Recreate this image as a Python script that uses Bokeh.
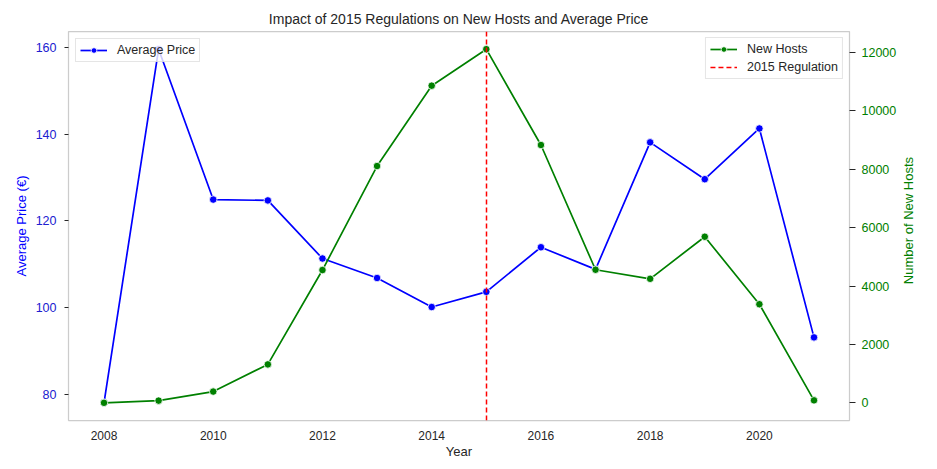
import math
from bokeh.plotting import figure
from bokeh.layouts import row
from bokeh.models import Range1d, LinearAxis, Legend, LegendItem, FixedTicker
from bokeh.core.properties import value
from bokeh.embed import file_html
from bokeh.resources import INLINE

years = [2008, 2009, 2010, 2011, 2012, 2013, 2014, 2015, 2016, 2017, 2018, 2019, 2020, 2021]
avg_price = [78.0, 159.6, 124.9, 124.7, 111.3, 106.8, 100.1, 103.6, 113.9, 108.8, 138.1, 129.6, 141.3, 93.1]
new_hosts = [5, 80, 390, 1320, 4550, 8110, 10860, 12110, 8830, 4560, 4250, 5690, 3380, 90]
regulation_year = [2015]
x_ticks = [2008, 2010, 2012, 2014, 2016, 2018, 2020]
price_ticks = [80, 100, 120, 140, 160]
host_ticks = [0, 2000, 4000, 6000, 8000, 10000, 12000]
right_axis_title = ["Number of New Hosts"]

FONT = "Liberation Sans"
DARK = "#262626"

HEIGHT = 464
TOP = 31
BOTTOM = 44
FRAME_H = HEIGHT - TOP - BOTTOM


def padded(vals, frac=0.05):
    lo, hi = min(vals), max(vals)
    pad = (hi - lo) * frac
    return lo - pad, hi + pad


x0, x1 = padded(years)
y0, y1 = padded(avg_price)
h0, h1 = padded(new_hosts)

p = figure(
    width=900, height=HEIGHT,
    output_backend="svg", toolbar_location=None,
    x_range=Range1d(x0, x1), y_range=Range1d(y0, y1),
    min_border_left=68, min_border_right=51, min_border_top=TOP, min_border_bottom=BOTTOM,
    title="Impact of 2015 Regulations on New Hosts and Average Price",
)
p.extra_y_ranges = {"hosts": Range1d(h0, h1)}

p.background_fill_color = "white"
p.border_fill_color = "white"
p.outline_line_color = "#cccccc"
p.outline_line_width = 1.25
p.xgrid.visible = False
p.ygrid.visible = False

p.title.text_font = FONT
p.title.text_font_size = "14px"
p.title.text_font_style = "normal"
p.title.text_color = DARK
p.title.align = "center"

# x axis
xa = p.xaxis[0]
xa.ticker = FixedTicker(ticks=x_ticks)
xa.axis_label = "Year"
xa.axis_line_color = None
xa.major_tick_out = 0
xa.major_tick_in = 0
xa.minor_tick_line_color = None
xa.major_label_standoff = 10
xa.axis_label_standoff = 1
xa.major_label_text_font = FONT
xa.major_label_text_font_size = "12px"
xa.major_label_text_color = DARK
xa.axis_label_text_font = FONT
xa.axis_label_text_font_size = "13px"
xa.axis_label_text_font_style = "normal"
xa.axis_label_text_color = DARK

# left axis
ya = p.yaxis[0]
ya.ticker = FixedTicker(ticks=price_ticks)
ya.axis_label = "Average Price (€)"
ya.axis_line_color = None
ya.major_tick_out = 4
ya.major_tick_in = 0
ya.major_tick_line_color = DARK
ya.minor_tick_line_color = None
ya.major_label_standoff = 8
ya.axis_label_standoff = 4
ya.major_label_text_font = FONT
ya.major_label_text_font_size = "12.5px"
ya.major_label_text_color = "#2020d0"
ya.axis_label_text_font = FONT
ya.axis_label_text_font_size = "13px"
ya.axis_label_text_font_style = "normal"
ya.axis_label_text_color = "blue"

# right axis (its title is drawn in a slim strip so it reads bottom-to-top)
ra = LinearAxis(y_range_name="hosts")
ra.ticker = FixedTicker(ticks=host_ticks)
ra.axis_line_color = None
ra.major_tick_out = 6
ra.major_tick_in = 0
ra.major_tick_line_color = DARK
ra.minor_tick_line_color = None
ra.major_label_standoff = 6
ra.major_label_text_font = FONT
ra.major_label_text_font_size = "12.5px"
ra.major_label_text_color = "green"
p.add_layout(ra, "right")

# series
price_line = p.line(years, avg_price, line_color="blue", line_width=1.7)
price_pts = p.scatter(years, avg_price, size=7.5, fill_color="blue", line_color="white", line_width=0.8)

host_line = p.line(years, new_hosts, line_color="green", line_width=1.7, y_range_name="hosts")
host_pts = p.scatter(years, new_hosts, size=7.5, fill_color="green", line_color="white", line_width=0.8,
                     y_range_name="hosts")

reg = p.vspan(x=regulation_year, line_color="red", line_dash="5 3", line_width=1.5)


def style_legend(lg, margin):
    lg.border_line_color = "#cccccc"
    lg.border_line_width = 1
    lg.background_fill_color = "white"
    lg.background_fill_alpha = 0.8
    lg.label_text_font = FONT
    lg.label_text_font_size = "12.5px"
    lg.label_text_color = DARK
    lg.glyph_width = 27
    lg.glyph_height = 14
    lg.label_height = 14
    lg.label_standoff = 10
    lg.padding = 4
    lg.spacing = 4
    lg.margin = margin


left_legend = Legend(items=[LegendItem(label="Average Price", renderers=[price_line, price_pts])],
                     location="top_left")
style_legend(left_legend, 7)
p.add_layout(left_legend)

right_legend = Legend(items=[LegendItem(label="New Hosts", renderers=[host_line, host_pts]),
                             LegendItem(label="2015 Regulation", renderers=[reg])],
                      location="top_right")
style_legend(right_legend, 6)
p.add_layout(right_legend)

# slim strip holding the right axis title
q = figure(
    width=15, height=HEIGHT,
    output_backend="svg", toolbar_location=None,
    x_axis_type=None, y_axis_type=None,
    x_range=Range1d(0, 1), y_range=Range1d(HEIGHT, 0),
    min_border=0,
)
q.outline_line_color = None
q.background_fill_color = "white"
q.border_fill_color = "white"
q.text(x=[0.5], y=[TOP + FRAME_H / 2], text=right_axis_title, angle=math.pi / 2,
       text_align="center", text_baseline="middle",
       text_font=value(FONT), text_font_size="13px", text_color="green")

layout = row(p, q, spacing=0)

open("out.html", "w").write(file_html(layout, INLINE))
